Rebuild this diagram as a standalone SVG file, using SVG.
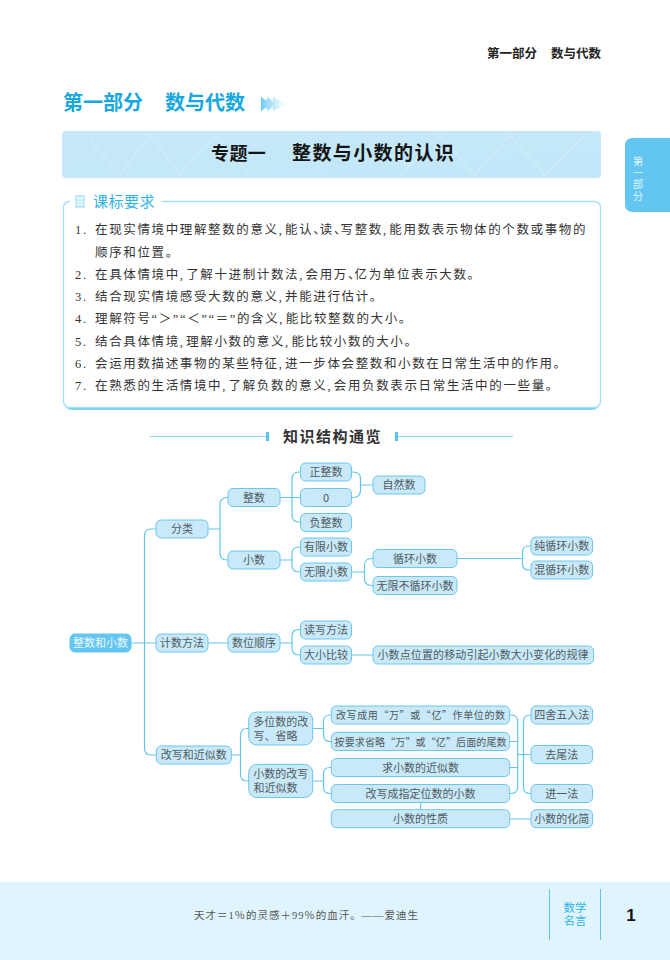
<svg xmlns="http://www.w3.org/2000/svg" width="670" height="960" viewBox="0 0 670 960">
<defs>
<linearGradient id="fade" x1="0" x2="1" y1="0" y2="0"><stop offset="0" stop-color="#6fcaf0"/><stop offset="1" stop-color="#9fdcf5" stop-opacity="0"/></linearGradient>
<linearGradient id="band" x1="0" x2="1" y1="0" y2="1"><stop offset="0" stop-color="#c6e9f9"/><stop offset="1" stop-color="#c1e7f8"/></linearGradient>
</defs>
<style>
text{font-family:"Noto Sans CJK SC","Noto Sans",sans-serif}
.n rect{fill:#c9e9f9;stroke:#6ac8ef;stroke-width:1}
.n text{font-size:11px;fill:#4f5b60;text-anchor:middle}
.s{font-size:10px!important}
.c path{fill:none;stroke:#62c5ee;stroke-width:1.2}
.r{font-family:"Liberation Serif","Noto Sans CJK SC",serif;font-size:12.5px;fill:#333;letter-spacing:1.63px}
.f{font-family:"Liberation Serif","Noto Sans CJK SC",serif}
</style>
<rect width="670" height="960" fill="#fff"/>
<text x="487" y="58" font-size="12.5" font-weight="700" fill="#222">第一部分</text>
<text x="551" y="58" font-size="12.5" font-weight="700" fill="#222">数与代数</text>
<text x="63" y="110" font-size="20" font-weight="700" fill="#14a7e0">第一部分</text>
<text x="165" y="110" font-size="20" font-weight="700" fill="#14a7e0">数与代数</text>
<path d="M261 97L272 104L261 111ZM267 97L278 104L267 111ZM273 97L287 104L273 111Z" fill="url(#fade)"/>
<rect x="62" y="131" width="539" height="47" rx="4" fill="url(#band)"/>
<path d="M90 140L120 175L150 135L180 175L215 135L250 175M400 175L440 135L475 175L510 135L545 175L585 135" fill="none" stroke="#d2effb" stroke-width="2" opacity=".6"/>
<text x="211" y="160" font-size="18" font-weight="700" fill="#151515" letter-spacing=".4">专题一</text>
<text x="292" y="160" font-size="19" font-weight="700" fill="#151515" letter-spacing="1.4">整数与小数的认识</text>
<path d="M670 138H633Q625 138 625 146V204Q625 212 633 212H670Z" fill="#62c6f0"/>
<text font-size="10.500" fill="#dff4fd" text-anchor="middle"><tspan x="638" y="165">第</tspan><tspan x="638" y="176.500">一</tspan><tspan x="638" y="188">部</tspan><tspan x="638" y="199.500">分</tspan></text>

<rect x="64" y="203" width="536" height="207" rx="8" fill="#7ccff2"/>
<path d="M70 201.500Q63.500 201.500 63.500 208V400Q63.500 407.500 70 407.500H594Q600.500 407.500 600.500 400V208Q600.500 201.500 594 201.500H162" fill="#fff" stroke="#a6e0f6" stroke-width="1.3"/>
<rect x="70" y="195" width="92" height="12" fill="#fff"/>
<rect x="75" y="195" width="10" height="13" fill="#c4e9f8"/>
<path d="M77 198.500H83M77 201.500H83M77 204.500H83" stroke="#fff" stroke-width="1"/>
<text x="93" y="207" font-size="15" fill="#2fb4e8" letter-spacing=".5">课标要求</text>
<g>
<text class="r" x="75" y="234">1.</text><text class="r" x="95" y="234">在现实情境中理解整数的意义,<tspan dx="1.6">能</tspan>认、<tspan dx="-7.6">读</tspan>、<tspan dx="-7.6">写</tspan>整数,<tspan dx="1.6">能</tspan>用数表示物体的个数或事物的</text>
<text class="r" x="95" y="257">顺序和位置。</text>
<text class="r" x="75" y="279">2.</text><text class="r" x="95" y="279">在具体情境中,<tspan dx="1.6">了</tspan>解十进制计数法,<tspan dx="1.6">会</tspan>用万、<tspan dx="-7.6">亿</tspan>为单位表示大数。</text>
<text class="r" x="75" y="301">3.</text><text class="r" x="95" y="301">结合现实情境感受大数的意义,<tspan dx="1.6">并</tspan>能进行估计。</text>
<text class="r" x="75" y="323">4.</text><text class="r" x="95" y="323">理解符号“＞”“＜”“＝”的含义,<tspan dx="1.6">能</tspan>比较整数的大小。</text>
<text class="r" x="75" y="346">5.</text><text class="r" x="95" y="346">结合具体情境,<tspan dx="1.6">理</tspan>解小数的意义,<tspan dx="1.6">能</tspan>比较小数的大小。</text>
<text class="r" x="75" y="368">6.</text><text class="r" x="95" y="368">会运用数描述事物的某些特征,<tspan dx="1.6">进</tspan>一步体会整数和小数在日常生活中的作用。</text>
<text class="r" x="75" y="390">7.</text><text class="r" x="95" y="390">在熟悉的生活情境中,<tspan dx="1.6">了</tspan>解负数的意义,<tspan dx="1.6">会</tspan>用负数表示日常生活中的一些量。</text>
</g>

<path d="M150 436.500H267M397 436.500H513" stroke="#8fd6f4" stroke-width="1.2"/>
<rect x="266" y="432" width="3" height="9" fill="#5cc3ee"/><rect x="395" y="432" width="3" height="9" fill="#5cc3ee"/>
<text x="283" y="442" font-size="15" font-weight="700" fill="#333" letter-spacing="1.5">知识结构通览</text>

<g id="connectors" class="c">
<path d="M131 643H156M156 529H151Q144.500 529 144.500 536V748Q144.500 755 151 755H156"/>
<path d="M208 529H220M228 497.500H227Q220 497.500 220 505V553Q220 560 227 560H228"/>
<path d="M280 497.500H300M300 472H299Q292 472 292 479V515Q292 522 299 522H300"/>
<path d="M280 560H292M300 547H299Q292 547 292 554V565Q292 572 299 572H300"/>
<path d="M352 472H353Q360.500 472 360.500 479V490Q360.500 497.500 353 497.500H352M360.500 485H373"/>
<path d="M352 572H364.500M373 558.500H371.500Q364.500 558.500 364.500 565.500V578.500Q364.500 585.500 371.500 585.500H373"/>
<path d="M457 558.500H522.500M531 546H529Q522.500 546 522.500 552V564Q522.500 570 529 570H531"/>
<path d="M208 643H228M280 643H292M300 629.700H299Q292 629.700 292 636V648Q292 655 299 655H300M352 655H373"/>
<path d="M231.500 755H240.500M249 728.500H247Q240.500 728.500 240.500 735V774Q240.500 781 247 781H249"/>
<path d="M312.700 728.500H323.500M331.300 715H330Q323.500 715 323.500 721V735Q323.500 741.500 330 741.500H331.300"/>
<path d="M312.700 781H323.500M331.300 767.500H330Q323.500 767.500 323.500 774V787Q323.500 793.500 330 793.500H331.300"/>
<path d="M509.700 715H511Q517.700 715 517.700 722V787Q517.700 793.500 511 793.500H509.700M509.700 741.500H517.700M509.700 767.500H517.700M517.700 754.500H531M531 715H530Q523.500 715 523.500 722V787Q523.500 793.500 530 793.500H531"/>
<path d="M509.700 819H531M420.700 802.700V809.700"/>
</g>

<g id="root" class="n"><rect x="70" y="634" width="61" height="18" rx="5" style="fill:#62c6f0;stroke:#62c6f0"/><text x="100.500" y="647" style="fill:#eef9fe">整数和小数</text></g>
<g id="n-fenlei" class="n"><rect x="156" y="520" width="52" height="18" rx="5"/><text x="182" y="533">分类</text></g>
<g id="n-zhengshu" class="n"><rect x="228" y="488.500" width="52" height="18" rx="5"/><text x="254" y="501.500">整数</text></g>
<g id="n-xiaoshu" class="n"><rect x="228" y="551" width="52" height="18" rx="5"/><text x="254" y="564">小数</text></g>
<g id="n-zheng" class="n"><rect x="300.500" y="463" width="51" height="18" rx="5"/><text x="326" y="476">正整数</text></g>
<g id="n-zero" class="n"><rect x="300.500" y="488.500" width="51" height="18" rx="5"/><text x="326" y="501.500">0</text></g>
<g id="n-fu" class="n"><rect x="300.500" y="513.500" width="51" height="18" rx="5"/><text x="326" y="526.500">负整数</text></g>
<g id="n-ziran" class="n"><rect x="373" y="476" width="52" height="18" rx="5"/><text x="399" y="489">自然数</text></g>
<g id="n-youxian" class="n"><rect x="300.500" y="538" width="51" height="18" rx="5"/><text x="326" y="551">有限小数</text></g>
<g id="n-wuxian" class="n"><rect x="300.500" y="563" width="51" height="18" rx="5"/><text x="326" y="576">无限小数</text></g>
<g id="n-xunhuan" class="n"><rect x="373" y="549.500" width="84" height="18" rx="5"/><text x="415" y="562.500">循环小数</text></g>
<g id="n-buxunhuan" class="n"><rect x="373" y="576.500" width="84" height="18" rx="5"/><text x="415" y="589.500">无限不循环小数</text></g>
<g id="n-chun" class="n"><rect x="531" y="537" width="61.500" height="18" rx="5"/><text x="561.700" y="550">纯循环小数</text></g>
<g id="n-hun" class="n"><rect x="531" y="561" width="61.500" height="18" rx="5"/><text x="561.700" y="574">混循环小数</text></g>
<g id="n-jishu" class="n"><rect x="156" y="634" width="52" height="18" rx="5"/><text x="182" y="647">计数方法</text></g>
<g id="n-shuwei" class="n"><rect x="228" y="634" width="52" height="18" rx="5"/><text x="254" y="647">数位顺序</text></g>
<g id="n-duxie" class="n"><rect x="300.500" y="621" width="51" height="18" rx="5"/><text x="326" y="634">读写方法</text></g>
<g id="n-daxiao" class="n"><rect x="300.500" y="646" width="51" height="18" rx="5"/><text x="326" y="659">大小比较</text></g>
<g id="n-guilv" class="n"><rect x="373" y="646" width="220.500" height="18" rx="5"/><text x="483" y="659" textLength="211" lengthAdjust="spacing">小数点位置的移动引起小数大小变化的规律</text></g>
<g id="n-gaixie" class="n"><rect x="156.300" y="746" width="75" height="18" rx="5"/><text x="193.800" y="759">改写和近似数</text></g>
<g id="n-duowei" class="n"><rect x="248.700" y="712" width="64" height="33" rx="8"/><text x="280.700" y="726">多位数的改</text><text x="275.500" y="740">写、省略</text></g>
<g id="n-xsgx" class="n"><rect x="248.700" y="764.500" width="64" height="33" rx="8"/><text x="280.700" y="778">小数的改写</text><text x="275.500" y="792">和近似数</text></g>
<g id="n-wanyi" class="n"><rect x="331.300" y="706" width="178.400" height="18" rx="5"/><text class="s" x="420.500" y="719" textLength="169" lengthAdjust="spacing">改写成用“万”或“亿”作单位的数</text></g>
<g id="n-shenglue" class="n"><rect x="331.300" y="732.500" width="178.400" height="18" rx="5"/><text class="s" x="420.500" y="745.500" textLength="172" lengthAdjust="spacing">按要求省略“万”或“亿”后面的尾数</text></g>
<g id="n-jinsi" class="n"><rect x="331.300" y="758.500" width="178.400" height="18" rx="5"/><text x="420.500" y="771.500">求小数的近似数</text></g>
<g id="n-zhiding" class="n"><rect x="331.300" y="784.500" width="178.400" height="18" rx="5"/><text x="420.500" y="797.500">改写成指定位数的小数</text></g>
<g id="n-xingzhi" class="n"><rect x="331.300" y="809.700" width="178.400" height="18" rx="5"/><text x="420.500" y="822.700">小数的性质</text></g>
<g id="n-sishe" class="n"><rect x="531" y="706" width="61.500" height="18" rx="5"/><text x="561.700" y="719">四舍五入法</text></g>
<g id="n-quwei" class="n"><rect x="531" y="745.500" width="61.500" height="18" rx="5"/><text x="561.700" y="758.500">去尾法</text></g>
<g id="n-jinyi" class="n"><rect x="531" y="784.500" width="61.500" height="18" rx="5"/><text x="561.700" y="797.500">进一法</text></g>
<g id="n-huajian" class="n"><rect x="531" y="809.700" width="61.500" height="18" rx="5"/><text x="561.700" y="822.700">小数的化简</text></g>

<rect x="0" y="882" width="670" height="78" fill="#dff4fd"/>
<text class="f" x="194" y="919" font-size="10.500" fill="#555" textLength="224" lengthAdjust="spacing">天才＝1％的灵感＋99％的血汗。——爱迪生</text>
<path d="M549.500 889V940M600.500 889V940" stroke="#62c5ee" stroke-width="1"/>
<text font-size="11.500" fill="#2fb4e8" text-anchor="middle"><tspan x="575" y="912">数学</tspan><tspan x="575" y="925">名言</tspan></text>
<text x="631" y="921" font-size="17" font-weight="700" fill="#111" text-anchor="middle" style="font-family:'Liberation Sans',sans-serif">1</text>
</svg>
